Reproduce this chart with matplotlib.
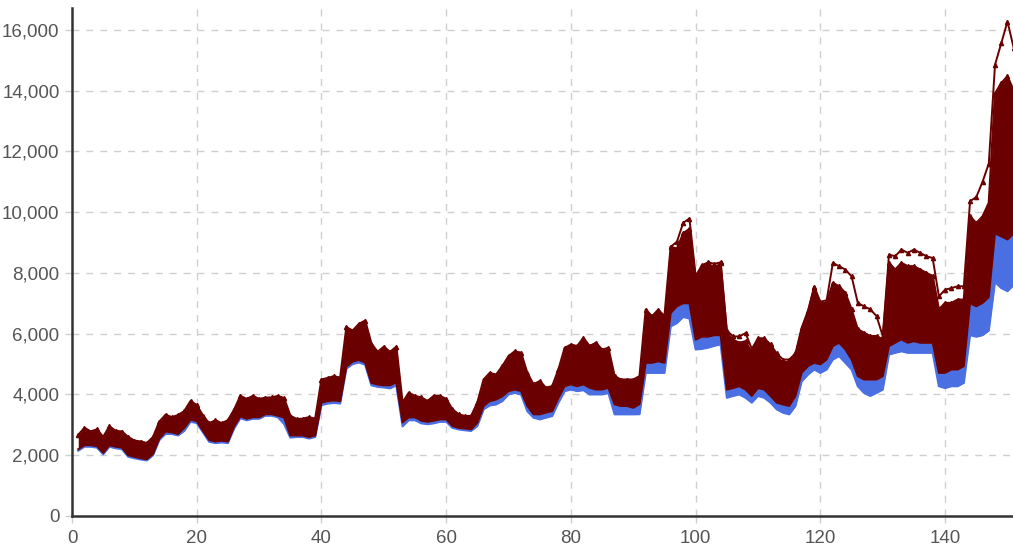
import numpy as np
import matplotlib
matplotlib.use("Agg")
import matplotlib.pyplot as plt
from matplotlib.ticker import FuncFormatter, MultipleLocator

plt.rcParams['font.family'] = ['Liberation Sans', 'DejaVu Sans']

# Simulation index (days 1..151)
days = np.arange(1, 152)

# Upper edge of the dense band of maroon simulation paths
maroon_top = [
    2670, 2900, 2780, 2850, 2600, 2950, 2800, 2780, 2600, 2480,
    2450, 2400, 2600, 3100, 3330, 3250, 3320, 3450, 3780, 3650,
    3300, 3050, 3150, 3050, 3150, 3500, 3950, 3850, 3950, 3850,
    3890, 3900, 3950, 3880, 3300, 3190, 3200, 3250, 3200, 4490,
    4540, 4600, 4550, 6215, 6100, 6320, 6430, 5675, 5400, 5570,
    5400, 5570, 3730, 4055, 3950, 3900, 3785, 3950, 3950, 3850,
    3510, 3345, 3290, 3290, 3730, 4490, 4710, 4650, 4930, 5260,
    5420, 5370, 4710, 4330, 4440, 4220, 4270, 4820, 5530, 5640,
    5590, 5860, 5590, 5700, 5475, 5530, 4600, 4490, 4490, 4490,
    4600, 6790, 6570, 6790, 6570, 8860, 8800, 9300, 9450, 7770,
    8210, 8320, 8150, 8320, 6020, 5800, 5700, 5750, 5370, 5800,
    5800, 5590, 5260, 5040, 5090, 5260, 6130, 6680, 7500, 7000,
    7010, 7670, 7560, 7340, 6800, 6140, 6030, 5920, 5920, 5810,
    8330, 8110, 8330, 8220, 8220, 8110, 8000, 7900, 6800, 7010,
    7010, 7120, 7120, 9860, 9640, 9860, 10300, 13900, 14250, 14470,
    14000,
]

# Lower edge of the maroon paths (upper edge of the blue paths)
maroon_low = [
    2200, 2330, 2330, 2300, 2080, 2330, 2280, 2250, 2000, 1950,
    1900, 1870, 2050, 2550, 2780, 2750, 2700, 2900, 3170, 3120,
    2800, 2500, 2450, 2480, 2450, 2950, 3280, 3200, 3250, 3250,
    3350, 3350, 3300, 3240, 2650, 2650, 2650, 2600, 2650, 3730,
    3780, 3800, 3780, 4920, 5080, 5135, 5050, 4380, 4325, 4300,
    4300, 4400, 3080, 3245, 3245, 3135, 3100, 3135, 3180, 3180,
    2960, 2900, 2880, 2850, 3070, 3620, 3780, 3830, 3940, 4110,
    4160, 4110, 3620, 3345, 3345, 3400, 3450, 3890, 4270, 4330,
    4270, 4330, 4220, 4160, 4160, 4220, 3670, 3620, 3620, 3560,
    3680, 5040, 5040, 5090, 5040, 6680, 6900, 7000, 7000, 5800,
    5900, 5900, 5950, 5950, 4160, 4210, 4270, 4160, 3950, 4210,
    4160, 3950, 3730, 3670, 3620, 3950, 4710, 4930, 5040, 4990,
    5150, 5590, 5700, 5480, 5150, 4600, 4490, 4490, 4490, 4600,
    5590, 5700, 5810, 5700, 5750, 5700, 5700, 5700, 4710, 4710,
    4820, 4820, 4930, 7000, 6900, 7010, 7200, 9300, 9200, 9100,
    9300,
]

# Lower edge of the blue simulation paths
blue_low = [
    2150, 2280, 2280, 2250, 2030, 2280, 2230, 2200, 1950, 1900,
    1860, 1830, 2000, 2500, 2700, 2700, 2650, 2800, 3100, 3060,
    2750, 2440, 2400, 2420, 2400, 2880, 3220, 3150, 3200, 3200,
    3300, 3300, 3250, 3030, 2580, 2600, 2600, 2550, 2600, 3650,
    3700, 3720, 3700, 4850, 5000, 5050, 4980, 4300, 4250, 4230,
    4200, 4300, 2950, 3150, 3150, 3050, 3020, 3050, 3100, 3100,
    2900, 2850, 2820, 2800, 2960, 3510, 3640, 3670, 3780, 4000,
    4050, 4000, 3450, 3235, 3180, 3235, 3290, 3730, 4110, 4160,
    4110, 4140, 4000, 4000, 4000, 4050, 3345, 3345, 3345, 3345,
    3350, 4710, 4710, 4710, 4710, 6240, 6350, 6550, 6500, 5480,
    5500, 5540, 5600, 5650, 3890, 3950, 4000, 3890, 3730, 3950,
    3890, 3730, 3510, 3400, 3345, 3620, 4430, 4650, 4820, 4710,
    4820, 5150, 5260, 5040, 4820, 4270, 4050, 3950, 4050, 4160,
    5315, 5370, 5420, 5370, 5370, 5370, 5370, 5370, 4270, 4210,
    4270, 4270, 4380, 5950, 5900, 5950, 6100, 7700, 7500, 7400,
    7600,
]

# Highest maroon path from day 96 onward
outlier_days = np.arange(96, 152)
maroon_outlier = [
    8860, 9030, 9650, 9790, 7900, 8250, 8350, 8300, 8350, 6100,
    5910, 5910, 6020, 5500, 5850, 5850, 5650, 5350, 5150, 5150,
    5350, 6200, 6750, 7550, 7050, 7100, 8330, 8220, 8110, 7890,
    7010, 6900, 6800, 6580, 5920, 8600, 8550, 8770, 8660, 8770,
    8660, 8550, 8490, 7230, 7450, 7500, 7560, 7560, 10360, 10500,
    11000, 11600, 14850, 15560, 16275, 15400,
]

MAROON = "#6b0000"
BLUE = "#4a6fe3"

fig = plt.figure(figsize=(10.13, 5.55), dpi=100)
ax = fig.add_axes([0.0711, 0.0703, 0.929, 0.9153])

# Blue paths
ax.fill_between(days, blue_low, maroon_low, color=BLUE, lw=0, zorder=2)
ax.plot(days, blue_low, color=BLUE, lw=1.5, zorder=2)

# Maroon paths
ax.fill_between(days, maroon_low, maroon_top, color=MAROON, lw=0, zorder=3)
ax.plot(days, maroon_low, color=MAROON, lw=1.4, zorder=3)
ax.plot(days, maroon_top, color=MAROON, lw=1.6, marker="^", ms=3, zorder=4)
ax.plot(outlier_days, maroon_outlier, color=MAROON, lw=1.4, marker="^", ms=3,
        zorder=4)

ax.set_xlim(0, 150.9)
ax.set_ylim(0, 16720)
ax.xaxis.set_major_locator(MultipleLocator(20))
ax.yaxis.set_major_locator(MultipleLocator(2000))
ax.yaxis.set_major_formatter(FuncFormatter(lambda v, _: f"{int(v):,}"))

ax.grid(True, color="#cfcfcf", linestyle=(0, (5, 5)), linewidth=1.0, zorder=0)
ax.set_axisbelow(True)
for side in ("top", "right"):
    ax.spines[side].set_visible(False)
for side in ("left", "bottom"):
    ax.spines[side].set_color("#333333")
    ax.spines[side].set_linewidth(1.8)
    ax.spines[side].set_zorder(5)

ax.tick_params(axis="both", length=5, width=1, color="#cfcfcf",
               labelcolor="#555555", labelsize=13.5)
ax.tick_params(axis="y", pad=4)
ax.tick_params(axis="x", pad=5)

fig.savefig("out.png", dpi=100)
